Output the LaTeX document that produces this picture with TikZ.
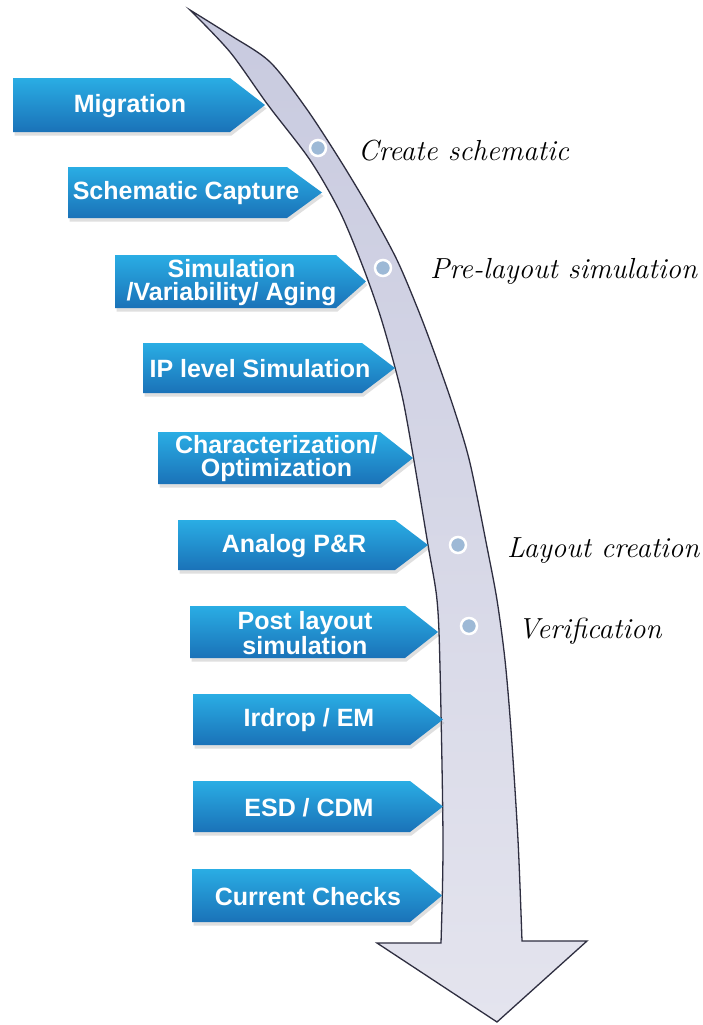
\documentclass[tikz,border=0pt]{standalone}
\usepackage{fontspec}
\setsansfont{Liberation Sans}
\usetikzlibrary{shadows}
\begin{document}

\definecolor{boxtop}{HTML}{2AADE4}
\definecolor{boxbot}{HTML}{1A72B8}
\definecolor{bandtop}{HTML}{C8CADF}
\definecolor{bandbot}{HTML}{E4E4EE}
\definecolor{bandline}{HTML}{2E2E40}
\definecolor{dotfill}{HTML}{9DB9D6}

\tikzset{
  stagebox/.style={top color=boxtop, bottom color=boxbot,
    drop shadow={shadow xshift=1.5pt, shadow yshift=-3.5pt, opacity=0.25}},
  stagetext/.style={text=white, font=\sffamily\bfseries\fontsize{25}{23}\selectfont,
    align=center, inner sep=0pt},
  milestone/.style={circle, fill=dotfill, draw=white, line width=2.5pt,
    minimum size=16pt, inner sep=0pt},
  milelabel/.style={anchor=base west, font=\itshape\fontsize{29}{34}\selectfont,
    text=black, inner sep=0pt},
  flowband/.style={draw=bandline, line width=1.3pt, top color=bandtop, bottom color=bandbot},
}

% #1 name, #2 left, #3 top, #4 bottom, #5 body right, #6 tip x, #7 text
\newcommand\stage[7]{%
  \path[stagebox] (#2,#3) -- (#5,#3) -- (#6,{(#3+#4)/2}) -- (#5,#4) -- (#2,#4) -- cycle;
  \node[stagetext] (#1) at ({(#2+#6)/2-9},{(#3+#4)/2+1}) {#7};
}

\begin{tikzpicture}[x=1pt,y=-1pt]
  \fill[white] (0,0) rectangle (702,1025);
  \useasboundingbox (0,0) rectangle (702,1025);

  % curved flow arrow
  \path[flowband]
    plot[smooth, tension=0.5] coordinates {(190,10) (230,35) (270,62) (306,108) (340,160)
      (370,210) (397,260) (419,312) (437,360) (455,412) (470,463) (487,547) (497,600)
      (505,660) (511,730) (518,840) (522,941)}
    -- (587,941) -- (497,1022) -- (377,943) -- (441,943)
    -- plot[smooth, tension=0.5] coordinates {(441,943) (443,840) (440,667) (437,600)
      (428,545) (413,455) (403,400) (393,360) (380,315) (363,267) (340,212) (310,160)
      (268,105) (230,52) (190,10)}
    -- cycle;

  % stages
  \stage{migration}{13}{78}{132}{230}{265}{Migration}
  \stage{capture}{68}{167}{218}{287}{322}{Schematic Capture}
  \stage{sim}{115}{255}{308}{336}{366}{Simulation\\/Variability/ Aging}
  \stage{iplevel}{143}{343}{393}{362}{395}{IP level Simulation}
  \stage{charopt}{158}{432}{484}{380}{413}{Characterization/\\Optimization}
  \stage{pnr}{178}{520}{570}{395}{428}{Analog P\&R}
  \stage{postsim}{190}{606}{658}{405}{438}{Post layout\\simulation}
  \stage{irdrop}{193}{694}{745}{410}{443}{Irdrop / EM}
  \stage{esd}{193}{781}{832}{410}{443}{ESD / CDM}
  \stage{current}{192}{869}{922}{410}{442}{Current Checks}

  % milestones on the arrow
  \node[milestone] (m1) at (318,148) {};
  \node[milestone] (m2) at (383,268) {};
  \node[milestone] (m3) at (458,545) {};
  \node[milestone] (m4) at (469,626) {};

  \node[milelabel] (l1) at (358,160) {Create schematic};
  \node[milelabel] (l2) at (430,278) {Pre-layout simulation};
  \node[milelabel] (l3) at (507,557) {Layout creation};
  \node[milelabel] (l4) at (518,638) {Verification};
\end{tikzpicture}
\end{document}
